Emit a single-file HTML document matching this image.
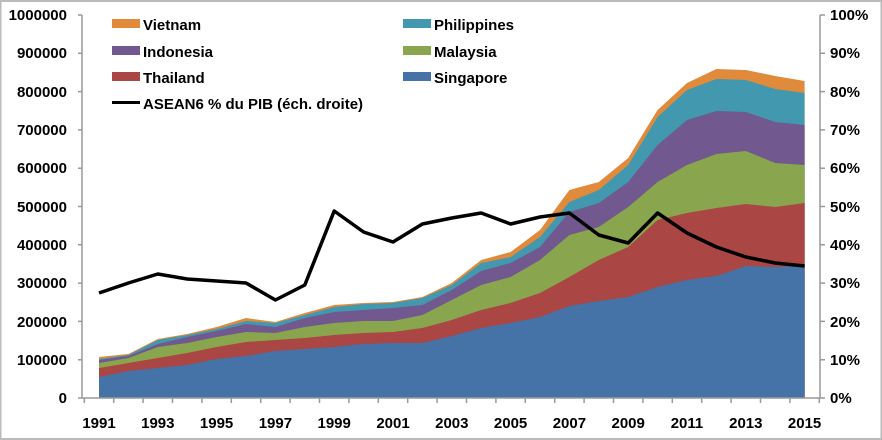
<!DOCTYPE html>
<html><head><meta charset="utf-8"><style>
body{margin:0;background:#fff;}
svg{display:block;font-family:"Liberation Sans",Arial,sans-serif;font-weight:bold;}
</style></head><body>
<svg width="882" height="440" viewBox="0 0 882 440">
<rect x="0.5" y="1" width="881" height="438" fill="#fff" stroke="#bbb" stroke-width="2"/>
<g stroke="none">
<polygon fill="#E08A3C" points="99,357 128.4,354 157.8,339 187.2,334 216.6,327 246,318 275.4,322 304.8,313 334.2,305 363.6,303 393,302 422.4,297 451.8,283 481.2,260 510.6,252 540,230 569.4,190 598.8,182 628.2,158 657.6,110 687,83 716.4,69 745.8,70 775.2,76 804.6,81 804.6,398 99,398"/>
<polygon fill="#4198AF" points="99,359 128.4,355 157.8,340 187.2,335 216.6,329 246,321 275.4,323 304.8,315 334.2,307 363.6,304 393,303 422.4,298 451.8,285 481.2,263 510.6,257 540,237 569.4,202 598.8,190 628.2,165 657.6,117 687,90 716.4,79 745.8,80 775.2,89 804.6,93 804.6,398 99,398"/>
<polygon fill="#71588F" points="99,360 128.4,356 157.8,344 187.2,337 216.6,331 246,324 275.4,327 304.8,318 334.2,312 363.6,310 393,308 422.4,305 451.8,290 481.2,271 510.6,263 540,247 569.4,212 598.8,203 628.2,182 657.6,145 687,120 716.4,111 745.8,112 775.2,122 804.6,125 804.6,398 99,398"/>
<polygon fill="#89A54E" points="99,363 128.4,358 157.8,347 187.2,343 216.6,337 246,332 275.4,333 304.8,327 334.2,323 363.6,321 393,321 422.4,315 451.8,300 481.2,285 510.6,277 540,260 569.4,235 598.8,227 628.2,207 657.6,182 687,165 716.4,154 745.8,151 775.2,163 804.6,165 804.6,398 99,398"/>
<polygon fill="#AA4643" points="99,368 128.4,363 157.8,358 187.2,353 216.6,347 246,342 275.4,340 304.8,338 334.2,335 363.6,333 393,332 422.4,328 451.8,320 481.2,310 510.6,303 540,293 569.4,277 598.8,260 628.2,247 657.6,220 687,213 716.4,208 745.8,204 775.2,207 804.6,203 804.6,398 99,398"/>
<polygon fill="#4572A7" points="99,377 128.4,371 157.8,368 187.2,365 216.6,359 246,356 275.4,351 304.8,349 334.2,347 363.6,344 393,343 422.4,343 451.8,336 481.2,328 510.6,323 540,317 569.4,306 598.8,301 628.2,297 657.6,287 687,280 716.4,276 745.8,266 775.2,267 804.6,266 804.6,398 99,398"/>
</g>
<polyline fill="none" stroke="#000" stroke-width="3.5" stroke-linejoin="round" points="99,293 128.4,283 157.8,274 187.2,279 216.6,281 246,283 275.4,300 304.8,285 334.2,211 363.6,232 393,242 422.4,224 451.8,218 481.2,213 510.6,224 540,217 569.4,213 598.8,235 628.2,243 657.6,213 687,233 716.4,247 745.8,257 775.2,263 804.6,266"/>
<g stroke="#999" stroke-width="1.5" fill="none">
<line x1="82" y1="15" x2="82" y2="398"/>
<line x1="820" y1="15" x2="820" y2="398"/>
<line x1="82" y1="398" x2="820" y2="398"/>
<path d="M78 15h4M78 53.3h4M78 91.6h4M78 129.9h4M78 168.2h4M78 206.5h4M78 244.8h4M78 283.1h4M78 321.4h4M78 359.7h4M78 398h4"/>
<path d="M820 15h5M820 53.3h5M820 91.6h5M820 129.9h5M820 168.2h5M820 206.5h5M820 244.8h5M820 283.1h5M820 321.4h5M820 359.7h5M820 398h5"/>
<path d="M84.3 398v5M113.7 398v5M143.1 398v5M172.5 398v5M201.9 398v5M231.3 398v5M260.7 398v5M290.1 398v5M319.5 398v5M348.9 398v5M378.3 398v5M407.7 398v5M437.1 398v5M466.5 398v5M495.9 398v5M525.3 398v5M554.7 398v5M584.1 398v5M613.5 398v5M642.9 398v5M672.3 398v5M701.7 398v5M731.1 398v5M760.5 398v5M789.9 398v5M819.3 398v5"/>
</g>
<g font-size="15" fill="#000" text-anchor="end">
<text x="67" y="20">1000000</text><text x="67" y="58">900000</text><text x="67" y="97">800000</text><text x="67" y="135">700000</text><text x="67" y="173">600000</text><text x="67" y="212">500000</text><text x="67" y="250">400000</text><text x="67" y="288">300000</text><text x="67" y="327">200000</text><text x="67" y="365">100000</text><text x="67" y="403">0</text>
</g>
<g font-size="15" fill="#000" text-anchor="start">
<text x="830" y="20">100%</text><text x="830" y="58">90%</text><text x="830" y="97">80%</text><text x="830" y="135">70%</text><text x="830" y="173">60%</text><text x="830" y="212">50%</text><text x="830" y="250">40%</text><text x="830" y="288">30%</text><text x="830" y="327">20%</text><text x="830" y="365">10%</text><text x="830" y="403">0%</text>
</g>
<g font-size="15" fill="#000" text-anchor="middle">
<text x="99" y="428">1991</text><text x="157.8" y="428">1993</text><text x="216.6" y="428">1995</text><text x="275.4" y="428">1997</text><text x="334.2" y="428">1999</text><text x="393" y="428">2001</text><text x="451.8" y="428">2003</text><text x="510.6" y="428">2005</text><text x="569.4" y="428">2007</text><text x="628.2" y="428">2009</text><text x="687" y="428">2011</text><text x="745.8" y="428">2013</text><text x="804.6" y="428">2015</text>
</g>
<g font-size="15" fill="#000">
<rect x="112" y="19" width="28" height="9" fill="#E08A3C"/><text x="143" y="30">Vietnam</text>
<rect x="112" y="46" width="28" height="9" fill="#71588F"/><text x="143" y="57">Indonesia</text>
<rect x="112" y="72" width="28" height="9" fill="#AA4643"/><text x="143" y="83">Thailand</text>
<rect x="112" y="101" width="28" height="3" fill="#000"/><text x="143" y="109">ASEAN6 % du PIB (éch. droite)</text>
<rect x="403" y="19" width="28" height="9" fill="#4198AF"/><text x="434" y="30">Philippines</text>
<rect x="403" y="46" width="28" height="9" fill="#89A54E"/><text x="434" y="57">Malaysia</text>
<rect x="403" y="72" width="28" height="9" fill="#4572A7"/><text x="434" y="83">Singapore</text>
</g>
</svg>
</body></html>
